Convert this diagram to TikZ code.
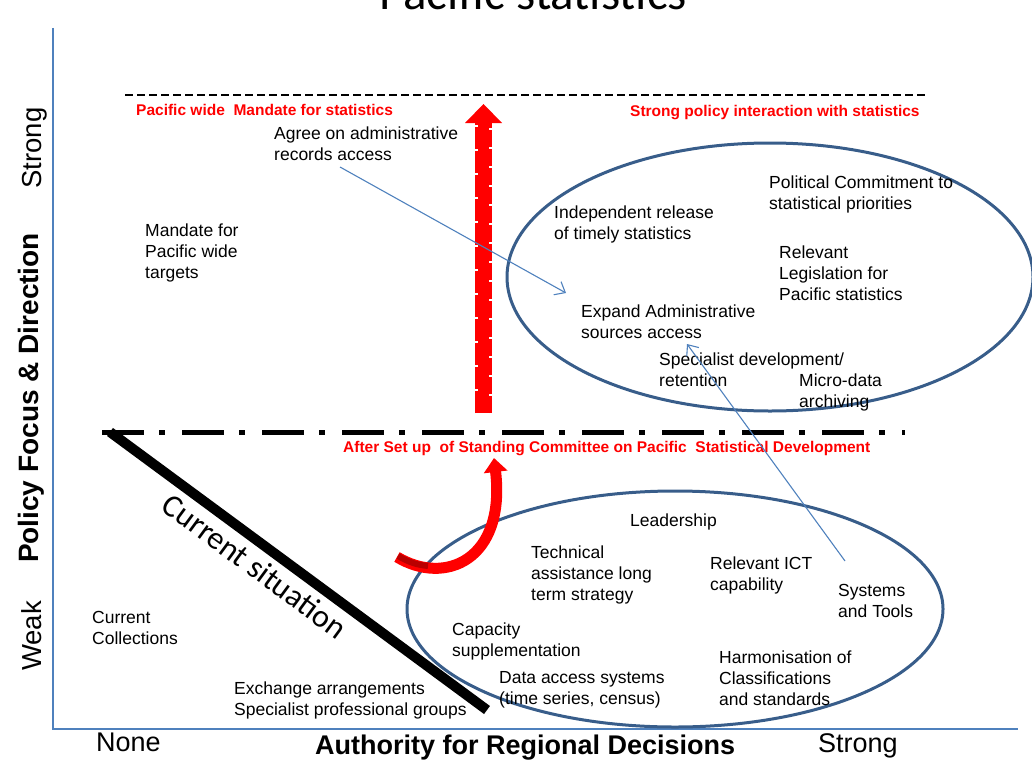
\documentclass[tikz,border=0pt]{standalone}
\usepackage{fontspec}
\setmainfont{Liberation Sans}
\newfontfamily\titlefont{Carlito}
\usetikzlibrary{
    arrows.meta,
    positioning,
}

\definecolor{axisblue}{RGB}{79,129,189}
\definecolor{ringblue}{RGB}{56,93,138}
\definecolor{darkred}{RGB}{185,0,0}

\begin{document}
\begin{tikzpicture}[
    x=1pt, y=-1pt,
    txt/.style={anchor=base west, align=left, inner sep=0pt, font=\fontsize{17.5}{21}\selectfont},
    redlbl/.style={anchor=base west, inner sep=0pt, text=red, font=\bfseries\fontsize{15.5}{18}\selectfont},
    biglbl/.style={anchor=base west, inner sep=0pt, font=\fontsize{27}{30}\selectfont},
    ylbl/.style={anchor=base, rotate=90, inner sep=0pt, font=\fontsize{27.5}{30}\selectfont},
    ring/.style={draw=ringblue, line width=3pt},
    link/.style={draw=axisblue, line width=1.1pt, -{Straight Barb[length=9pt,width=15pt]}},
]
\useasboundingbox (0,0) rectangle (1032,760);

\node[anchor=base, inner sep=0pt, font=\titlefont\fontsize{49}{50}\selectfont] (title) at (533,10) {Pacific statistics};

\draw[axisblue, line width=2pt] (53,28) -- (53,729) -- (1018,729);

\node[ylbl] (ystrong) at (41,148) {Strong};
\node[ylbl, font=\bfseries\fontsize{28}{30}\selectfont] (yaxis) at (38,398) {Policy Focus \& Direction};
\node[ylbl] (yweak) at (41,636) {Weak};

\node[biglbl] (xnone) at (96,751) {None};
\node[biglbl, font=\bfseries\fontsize{27}{30}\selectfont] (xaxis) at (315,754) {Authority for Regional Decisions};
\node[biglbl] (xstrong) at (818,752) {Strong};

\draw[line width=2.5pt, dash pattern=on 8pt off 4pt] (125,95) -- (925,95);
\draw[line width=5pt, dash pattern=on 42pt off 15pt on 6pt off 17pt] (102,432) -- (905,432);

\node[redlbl] (mandatelbl) at (136,115) {Pacific wide\ \ Mandate for statistics};
\node[redlbl] (interactlbl) at (630,116) {Strong policy interaction with statistics};
\node[redlbl] (committeelbl) at (343,452) {After Set up\ \ of Standing Committee on Pacific\ \ Statistical Development};

\draw[ring] (770,277) ellipse [x radius=263, y radius=134];
\draw[ring] (675,609) ellipse [x radius=268, y radius=118];

\fill[red] (478,413) rectangle (489,122);
\draw[red, line width=3pt, dash pattern=on 22pt off 2pt] (476.5,413) -- (476.5,122);
\draw[red, line width=3pt, dash pattern=on 17pt off 2pt] (490.5,413) -- (490.5,122);
\fill[red] (465,123) -- (483.5,104) -- (502,123) -- cycle;

\draw[red, line width=11pt, -{Triangle[length=14pt,width=23pt]}] (397,557) .. controls (445,586) and (506,560) .. (494,458);
\draw[darkred, line width=6pt] (398,556) .. controls (410,563) and (418,565) .. (428,566);

\coordinate (cs start) at (110,432);
\coordinate (cs end) at (487,710);
\draw[line width=10pt] (cs start) -- (cs end);
\node[rotate=-36.4, inner sep=0pt, font=\titlefont\fontsize{32}{36}\selectfont] (cursit) at (255,566) {Current situation};

\node[txt] (agree) at (274,160) {Agree on administrative\\records access};
\node[txt] (mandate) at (145,278) {Mandate for\\Pacific wide\\targets};
\node[txt] (independent) at (554,239) {Independent release\\of timely statistics};
\node[txt] (political) at (769,209) {Political Commitment to\\statistical priorities};
\node[txt] (legislation) at (779,300) {Relevant\\Legislation for\\Pacific statistics};
\node[txt] (expand) at (581,338) {Expand Administrative\\sources access};
\node[txt] (specialist) at (659,386) {Specialist development/\\retention};
\node[txt] (microdata) at (799,407) {Micro-data\\archiving};

\node[txt] (leadership) at (630,526) {Leadership};
\node[txt] (technical) at (531,600) {Technical\\assistance long\\term strategy};
\node[txt] (ict) at (710,590) {Relevant ICT\\capability};
\node[txt] (systems) at (838,617) {Systems\\and Tools};
\node[txt] (capacity) at (452,656) {Capacity\\supplementation};
\node[txt] (harmonisation) at (719,705) {Harmonisation of\\Classifications\\and standards};
\node[txt] (dataaccess) at (499,704) {Data access systems\\(time series, census)};
\node[txt] (collections) at (92,644) {Current\\Collections};
\node[txt] (exchange) at (234,715) {Exchange arrangements\\Specialist professional groups};

\draw[link] ([xshift=66pt,yshift=-7pt]agree.base west) -- ([xshift=-15pt,yshift=45pt]expand.base west);
\draw[link] ([xshift=7pt,yshift=56pt]systems.base west) -- ([xshift=106pt,yshift=-6pt]expand.base west);

\end{tikzpicture}
\end{document}
